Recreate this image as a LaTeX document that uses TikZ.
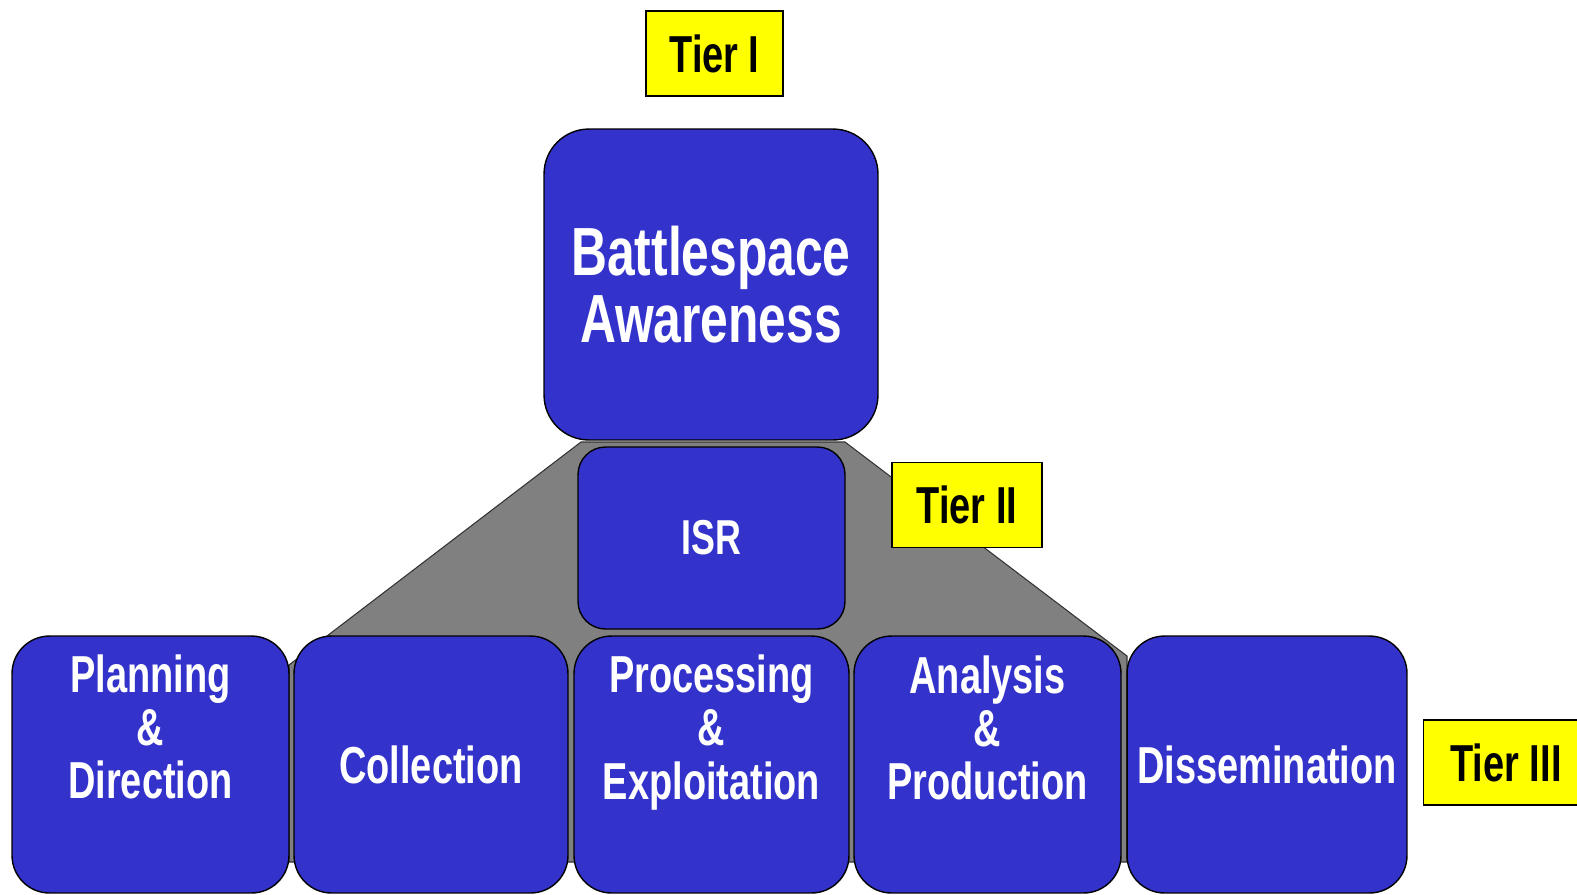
\documentclass[tikz,border=0pt]{standalone}
\usepackage{fontspec}
\setmainfont[FakeStretch=0.73]{Liberation Sans}
\definecolor{isrblue}{RGB}{51,51,204}
\definecolor{tieryellow}{RGB}{255,255,0}
\definecolor{wedgegray}{RGB}{128,128,128}
\tikzstyle{fn}=[shape=rectangle,
                rounded corners=0.75cm,
                draw=black,
                fill=isrblue,
                line width=0.8pt,
                inner sep=0pt,
                minimum height=5.14cm]
\tikzstyle{fntext}=[align=center,
                text=white,
                font=\fontsize{29.6}{30.2}\selectfont\bfseries]
\tikzstyle{tier}=[shape=rectangle,
                draw=black,
                fill=tieryellow,
                line width=0.8pt,
                inner sep=0pt,
                minimum height=1.7cm,
                font=\fontsize{29.6}{30}\selectfont\bfseries]

\begin{document}
\begin{tikzpicture}[x=0.02cm,y=-0.02cm]
\clip (0,0) rectangle (1577,894);
\useasboundingbox (0,0) rectangle (1577,894);

% gray wedge behind tier II and III
\coordinate (w1) at (581,442);
\coordinate (w2) at (845,442);
\coordinate (w3) at (1127,656);
\coordinate (w4) at (1127,862);
\coordinate (w5) at (289,862);
\coordinate (w6) at (289,665);
\draw[fill=wedgegray, draw=black!80, line width=0.6pt] (w1) -- (w2) -- (w3) -- (w4) -- (w5) -- (w6) -- cycle;

% tier I
\node[fn, rounded corners=0.9cm, minimum width=6.68cm, minimum height=6.22cm,
      fntext, font=\fontsize{38.8}{38.5}\selectfont\bfseries] (bsa) at (711,284.5) {Battlespace\\Awareness};

% tier II
\node[fn, rounded corners=0.55cm, minimum width=5.34cm, minimum height=3.64cm,
      fntext, font=\fontsize{27.9}{28}\selectfont\bfseries] (isr) at (711.5,538) {ISR};

% tier III
\node[fn, minimum width=5.54cm] (plan) at (150.5,764.5) {};
\node[fn, minimum width=5.48cm, fntext] (coll) at (431,764.5) {Collection};
\node[fn, minimum width=5.5cm] (proc) at (711.5,764.5) {};
\node[fn, minimum width=5.34cm] (anal) at (987.5,764.5) {};
\node[fn, minimum width=5.6cm, fntext] (diss) at (1267,764.5) {Dissemination};

\node[fntext] (plantext) at ([yshift=0.76cm]plan.center) {Planning\\\&\\Direction};
\node[fntext] (proctext) at ([yshift=0.64cm]proc.center) {Processing\\\&\\Exploitation};
\node[fntext] (analtext) at ([yshift=0.74cm]anal.center) {Analysis\\\&\\Production};

% tier labels
\node[tier, minimum width=2.74cm] (t1) at (714.5,53.5) {Tier I};
\node[tier, minimum width=3cm] (t2) at (967,505) {Tier II};
\node[tier, minimum width=3.3cm, minimum height=1.7cm] (t3) at (1506,762.5) {Tier III};
\end{tikzpicture}
\end{document}
